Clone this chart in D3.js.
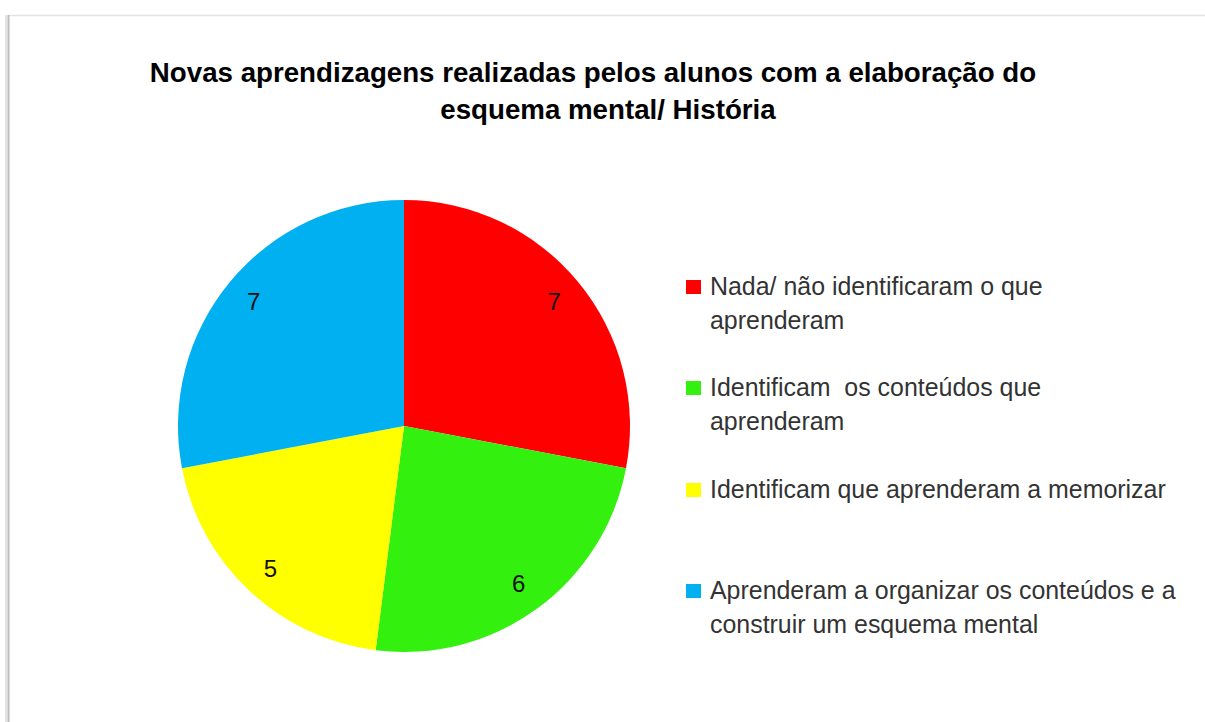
<!DOCTYPE html>
<html><head><meta charset="utf-8">
<script src="https://cdn.jsdelivr.net/npm/d3@7"></script>
<style>body{margin:0;background:#fff}svg{display:block}text{white-space:pre}</style>
</head><body>
<svg id="chart" width="1205" height="722"></svg>
<script>
const categories = ["Nada/ não identificaram o que aprenderam", "Identificam  os conteúdos que aprenderam", "Identificam que aprenderam a memorizar", "Aprenderam a organizar os conteúdos e a construir um esquema mental"];
const legendLines = [["Nada/ não identificaram o que", "aprenderam"], ["Identificam  os conteúdos que", "aprenderam"], ["Identificam que aprenderam a memorizar"], ["Aprenderam a organizar os conteúdos e a", "construir um esquema mental"]];
const values = [7, 6, 5, 7];
const colors = ["#FF0000", "#33F00F", "#FFFF00", "#00B0F0"];
const titleLines = ["Novas aprendizagens realizadas pelos alunos com a elaboração do", "esquema mental/ História"];

const svg = d3.select("#chart");
const FONT = "'Liberation Sans', Arial, sans-serif";

// frame
svg.append("line").attr("x1", 8).attr("x2", 1205).attr("y1", 15.5).attr("y2", 15.5).attr("stroke", "#e4e4e4").attr("stroke-width", 1.5);
svg.append("line").attr("x1", 6).attr("x2", 6).attr("y1", 15).attr("y2", 722).attr("stroke", "#e2e2e2").attr("stroke-width", 2);
svg.append("line").attr("x1", 8.5).attr("x2", 8.5).attr("y1", 15).attr("y2", 722).attr("stroke", "#bdbdbd").attr("stroke-width", 2);

function fit(sel, target) {
  const w = sel.node().getComputedTextLength();
  const fs = parseFloat(sel.attr("font-size"));
  sel.attr("font-size", fs * target / w);
}

// title
const t1 = svg.append("text").attr("x", 593).attr("y", 82).attr("text-anchor", "middle")
  .attr("font-family", FONT).attr("font-weight", "bold").attr("font-size", 24).attr("fill", "#000").text(titleLines[0]);
fit(t1, 887);
const t2 = svg.append("text").attr("x", 608).attr("y", 119).attr("text-anchor", "middle")
  .attr("font-family", FONT).attr("font-weight", "bold").attr("font-size", t1.attr("font-size")).attr("fill", "#000").text(titleLines[1]);

// pie
const cx = 404, cy = 426, R = 226;
const pie = d3.pie().sort(null).value(d => d)(values);
const arc = d3.arc().innerRadius(0).outerRadius(R);
const labelArc = d3.arc().innerRadius(195).outerRadius(195);
const g = svg.append("g").attr("transform", `translate(${cx},${cy})`);
g.selectAll("path").data(pie).join("path").attr("d", arc).attr("fill", (d, i) => colors[i]);
g.selectAll("text").data(pie).join("text")
  .attr("transform", d => `translate(${labelArc.centroid(d)})`)
  .attr("text-anchor", "middle").attr("dy", "0.36em")
  .attr("font-family", FONT).attr("font-size", 24).attr("fill", "#111")
  .text(d => d.data);

// legend
const legY = [295, 396, 498, 599];
const lg = svg.append("g");
let legFs = 21;
const probe = lg.append("text").attr("font-family", FONT).attr("font-size", 21).text(legendLines[2][0]);
fit(probe, 456); legFs = +probe.attr("font-size"); probe.remove();
legendLines.forEach((lines, i) => {
  lg.append("rect").attr("x", 686).attr("y", legY[i] - 15).attr("width", 15).attr("height", 14).attr("fill", colors[i]);
  lines.forEach((ln, j) => {
    lg.append("text").attr("x", 710).attr("y", legY[i] + j * 33.5)
      .attr("font-family", FONT).attr("font-size", legFs).attr("fill", "#333").text(ln);
  });
});
</script>
</body></html>
